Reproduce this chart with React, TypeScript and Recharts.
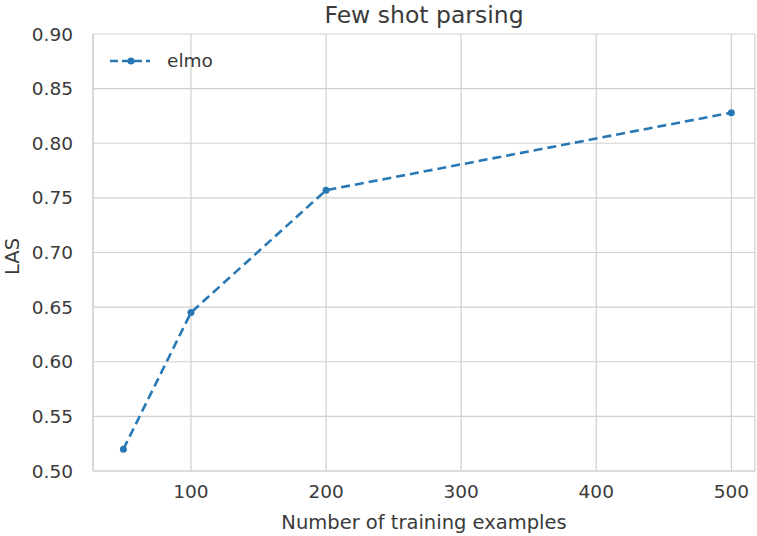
import React from 'react'
import { LineChart, Line, XAxis, YAxis, CartesianGrid } from 'recharts'

const examples: Array<number> = [50, 100, 200, 500]
const elmo: Array<number> = [0.520, 0.645, 0.757, 0.828]
const xTicks: Array<number> = [100, 200, 300, 400, 500]
const yTicks: Array<number> = [0.5, 0.55, 0.6, 0.65, 0.7, 0.75, 0.8, 0.85, 0.9]

const data = examples.map((n, i) => ({ n, elmo: elmo[i] }))

const font = '"DejaVu Sans", sans-serif'
const textColor = '#3a3a3a'
const grid = '#d0d0d0'
const blue = '#2878b5'

const LegendBox = () => (
    <div style={{ position: 'absolute', left: 108, top: 50, display: 'flex', alignItems: 'center', fontFamily: font, fontSize: 18.5, color: textColor }}>
        <svg width={44} height={14}>
            <line x1={2} y1={7} x2={42} y2={7} stroke={blue} strokeWidth={2.5} strokeDasharray="8 4" />
            <circle cx={23} cy={7} r={3.5} fill={blue} />
        </svg>
        <span style={{ marginLeft: 15 }}>elmo</span>
    </div>
)

const App = () => {
    return (
        <div style={{ position: 'absolute', left: 0, top: 0, width: 757, height: 536, background: '#fff' }}>
            <div style={{ position: 'absolute', top: 1, left: 93, width: 662, textAlign: 'center', fontFamily: font, fontSize: 23.5, color: textColor }}>
                Few shot parsing
            </div>
            <LineChart
                width={757}
                height={536}
                data={data}
                margin={{ top: 34, right: 2, left: 0, bottom: 0 }}
            >
                <CartesianGrid stroke={grid} strokeWidth={1.2} />
                <XAxis
                    dataKey="n"
                    type="number"
                    domain={[27.5, 517.5]}
                    ticks={xTicks}
                    height={65}
                    tickLine={false}
                    axisLine={{ stroke: grid, strokeWidth: 1.2 }}
                    tick={{ fill: textColor, fontSize: 18.5, fontFamily: font }}
                    tickMargin={8}
                    allowDataOverflow
                    label={{ value: 'Number of training examples', position: 'insideBottom', offset: 7, fill: textColor, fontSize: 19.5, fontFamily: font }}
                />
                <YAxis
                    type="number"
                    domain={[0.5, 0.9]}
                    ticks={yTicks}
                    width={93}
                    tickLine={false}
                    axisLine={{ stroke: grid, strokeWidth: 1.2 }}
                    tick={{ fill: textColor, fontSize: 18.5, fontFamily: font }}
                    tickFormatter={(v: number) => v.toFixed(2)}
                    tickMargin={14}
                    label={{ value: 'LAS', angle: -90, position: 'insideLeft', offset: 4, dx: 8, dy: 4, fill: textColor, fontSize: 19.5, fontFamily: font, style: { textAnchor: 'middle' } }}
                />
                <Line
                    dataKey="elmo"
                    stroke={blue}
                    strokeWidth={2.6}
                    strokeDasharray="9 5"
                    dot={{ r: 3.5, fill: blue, stroke: blue, strokeWidth: 0 }}
                    isAnimationActive={false}
                />
            </LineChart>
            <LegendBox />
        </div>
    )
}

export default App
